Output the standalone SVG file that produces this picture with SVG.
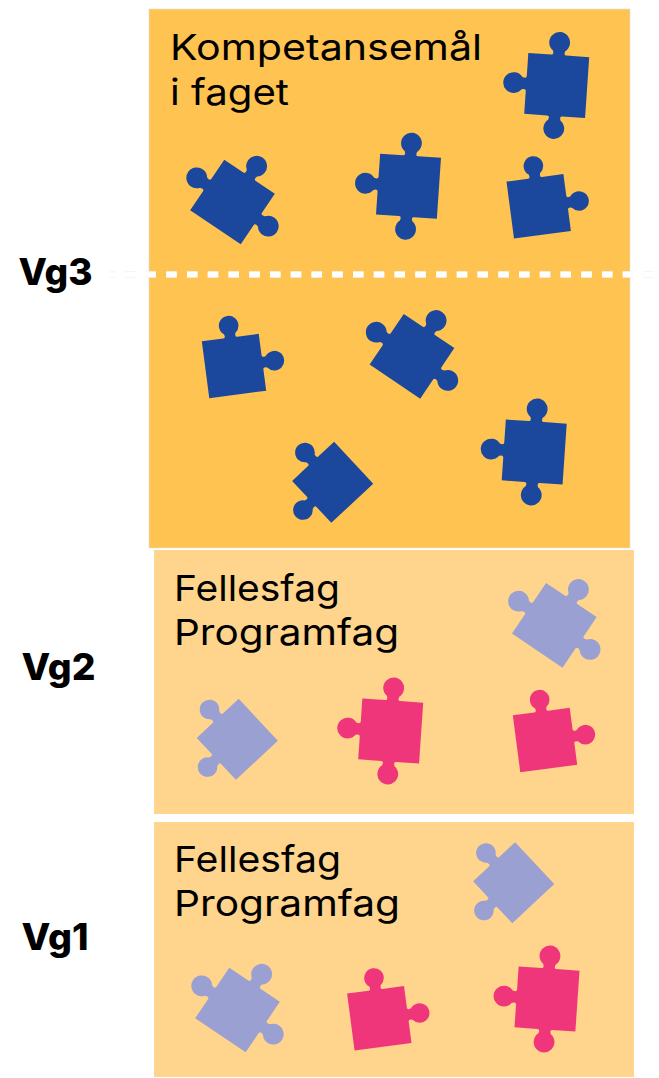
<svg xmlns="http://www.w3.org/2000/svg" width="659" height="1078" viewBox="0 0 659 1078">
<style>
.t{font-family:"Inter","Liberation Sans",sans-serif;font-size:36px;fill:#000}
.v{font-family:"Inter","Liberation Sans",sans-serif;font-size:37px;font-weight:800;fill:#000}
.b{fill:#1B489C}.p{fill:#F0367A}.l{fill:#9AA0D1}
</style>
<defs>
<path id="A" d="M-30.5,-30.5H-7.5Q-4.6,-30.5-6.2,-34.8A10.4,10.4 0 1 1 6.2,-34.8Q4.6,-30.5 7.5,-30.5H30.5V30.5H7.5Q4.6,30.5 6.2,34.8A10.4,10.4 0 1 1-6.2,34.8Q-4.6,30.5-7.5,30.5H-30.5V7.5Q-30.5,4.6-34.8,6.2A10.4,10.4 0 1 1-34.8,-6.2Q-30.5,-4.6-30.5,-7.5Z"/>
<path id="C" d="M-30.5,-30.5H-7.5Q-4.6,-30.5-6.2,-34.8A10.4,10.4 0 1 1 6.2,-34.8Q4.6,-30.5 7.5,-30.5H30.5V-7.5Q30.5,-4.6 34.8,-6.2A10.4,10.4 0 1 1 34.8,6.2Q30.5,4.6 30.5,7.5V30.5H-30.5V7.5Q-30.5,4.6-34.8,6.2A10.4,10.4 0 1 1-34.8,-6.2Q-30.5,-4.6-30.5,-7.5Z"/>
<path id="B" d="M-28.7,-28.7H-7Q-4.3,-28.7-5.8,-32.8A9.8,9.8 0 1 1 5.8,-32.8Q4.3,-28.7 7,-28.7H28.7V-7Q28.7,-4.3 32.8,-5.8A9.8,9.8 0 1 1 32.8,5.8Q28.7,4.3 28.7,7V28.7H-28.7Z"/>
</defs>
<rect id="band-vg3" x="149" y="9" width="481" height="539" fill="#FEC350" stroke="#E4DFD6" stroke-width=".6"/>
<rect id="band-vg2" x="154" y="550" width="480" height="264" fill="#FFD48C"/>
<rect id="band-vg1" x="154" y="822" width="480" height="255" fill="#FFD48C"/>
<g id="divider" fill="none">
<path d="M110,274.5H655" stroke="#EEEEEE" stroke-width="6.5" stroke-dasharray="10.5 10.25" stroke-dashoffset="6"/>
<path d="M110,274.5H655" stroke="#FFFFFF" stroke-width="5.5" stroke-dasharray="10.5 10.25" stroke-dashoffset="6"/>
</g>
<g id="label-vg3"><text class="v" x="18.5" y="285" textLength="74" lengthAdjust="spacingAndGlyphs">Vg3</text></g>
<g id="label-vg2"><text class="v" x="21.5" y="680" textLength="74" lengthAdjust="spacingAndGlyphs">Vg2</text></g>
<g id="label-vg1"><text class="v" x="21.5" y="950" textLength="67" lengthAdjust="spacingAndGlyphs">Vg1</text></g>
<g id="title-vg3"><text class="t" x="170" y="60" textLength="312" lengthAdjust="spacingAndGlyphs">Kompetansemål</text><text class="t" x="170" y="105" textLength="119" lengthAdjust="spacingAndGlyphs">i faget</text></g>
<g id="title-vg2"><text class="t" x="174" y="600.5" textLength="166" lengthAdjust="spacingAndGlyphs">Fellesfag</text><text class="t" x="174" y="644.5" textLength="225" lengthAdjust="spacingAndGlyphs">Programfag</text></g>
<g id="title-vg1"><text class="t" x="174" y="871.5" textLength="167" lengthAdjust="spacingAndGlyphs">Fellesfag</text><text class="t" x="174" y="915.5" textLength="226" lengthAdjust="spacingAndGlyphs">Programfag</text></g>
<g id="piece-1" class="b"><use href="#A" transform="translate(556.7 85.5) rotate(3.9)"/></g>
<g id="piece-2" class="b"><use href="#C" transform="translate(232.5 202) rotate(34)"/></g>
<g id="piece-3" class="b"><use href="#A" transform="translate(408.5 186.2) rotate(3.9)"/></g>
<g id="piece-4" class="b"><use href="#B" transform="translate(538.7 206.3) rotate(-7.5)"/></g>
<g id="piece-5" class="b"><use href="#B" transform="translate(234 366) rotate(-7.5)"/></g>
<g id="piece-6" class="b"><use href="#C" transform="translate(412 356.3) rotate(34)"/></g>
<g id="piece-7" class="b"><use href="#B" transform="translate(332.7 482.3) rotate(-133)"/></g>
<g id="piece-8" class="b"><use href="#A" transform="translate(534.2 452) rotate(3.9)"/></g>
<g id="piece-9" class="l"><use href="#C" transform="translate(554.3 625.3) rotate(34)"/></g>
<g id="piece-10" class="l"><use href="#B" transform="translate(237.3 739.3) rotate(-133)"/></g>
<g id="piece-11" class="p"><use href="#A" transform="translate(390.7 731) rotate(3.9)"/></g>
<g id="piece-12" class="p"><use href="#B" transform="translate(545 740) rotate(-7.5)"/></g>
<g id="piece-13" class="l"><use href="#B" transform="translate(513.7 882.7) rotate(-133)"/></g>
<g id="piece-14" class="l"><use href="#C" transform="translate(237.5 1010) rotate(34)"/></g>
<g id="piece-15" class="p"><use href="#B" transform="translate(379.3 1018.3) rotate(-7.5)"/></g>
<g id="piece-16" class="p"><use href="#A" transform="translate(547 999) rotate(3.9)"/></g>
</svg>
